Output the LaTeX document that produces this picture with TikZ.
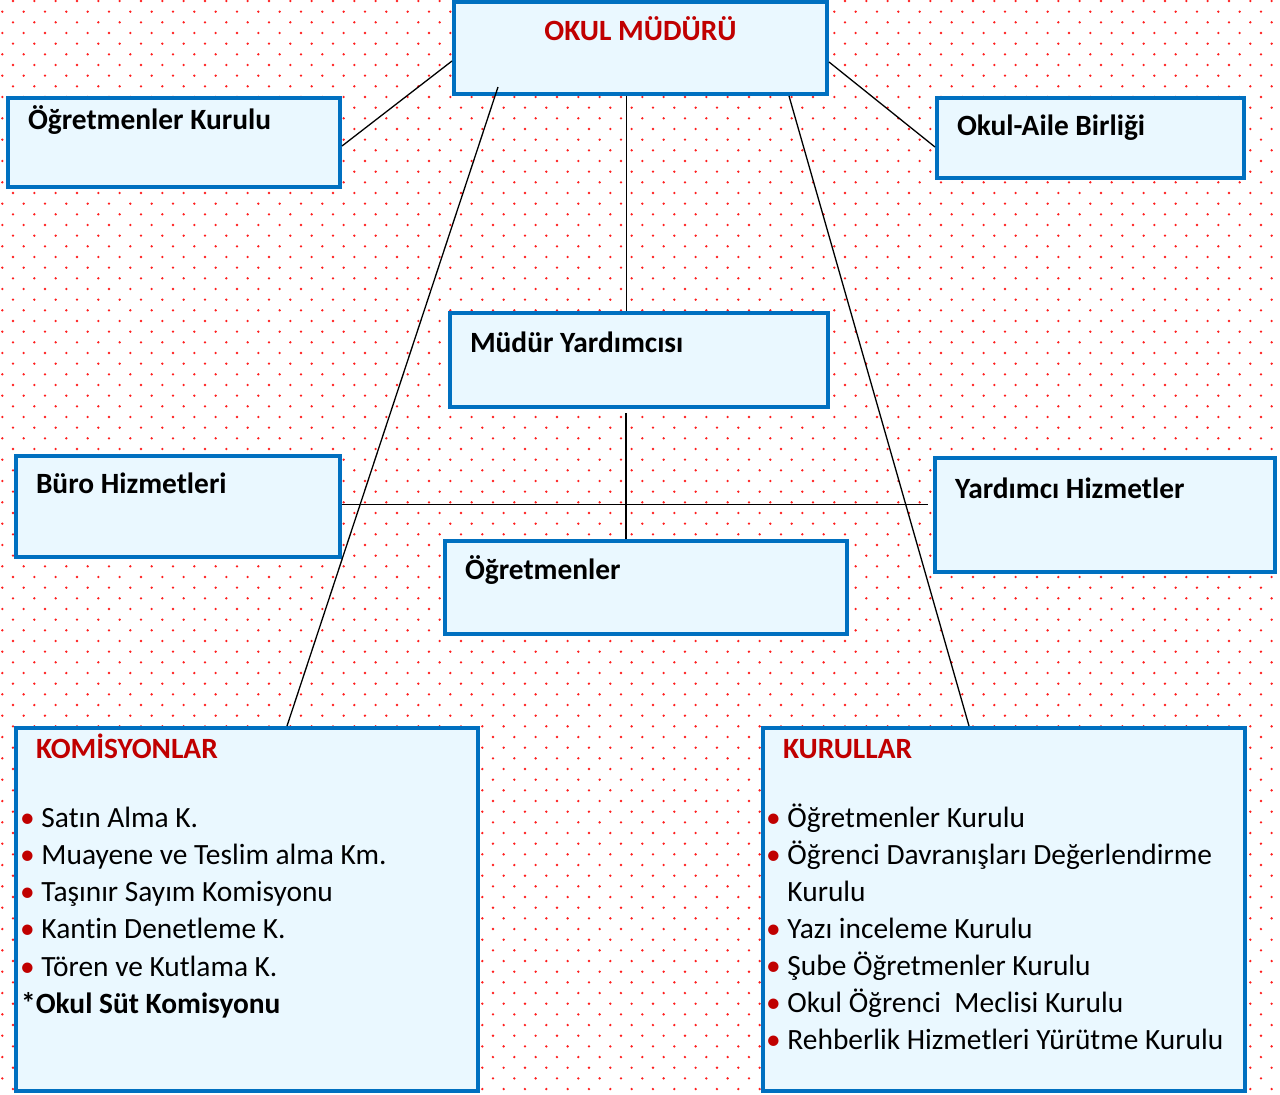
\documentclass[tikz,border=0pt]{standalone}
\usepackage{fontspec}
\setmainfont{Carlito}[Ligatures=NoCommon]
\definecolor{boxblue}{RGB}{0,112,192}
\definecolor{boxfill}{RGB}{234,248,255}
\definecolor{titred}{RGB}{192,0,0}
\definecolor{dotred}{RGB}{255,30,30}
\newcommand{\chartfont}{\fontsize{29.4}{35}\selectfont}
\newcommand{\blt}{{\color{titred}•}\ }
\tikzstyle{unit} = [rectangle, draw=boxblue, line width=4pt, fill=boxfill, anchor=north west, inner xsep=20pt, inner ysep=12pt, text height=26pt, align=flush left, font=\chartfont\bfseries]
\tikzstyle{item} = [anchor=base west, inner sep=0pt, font=\chartfont]
\tikzstyle{link} = [line width=1.3pt]

\begin{document}
\begin{tikzpicture}[x=1pt, y=-1pt]
            \clip (0,0) rectangle (1280,1095);
            \fill [white] (0,0) rectangle (1280,1095);
            % dotted background
            \foreach \r in {0,...,102}
                \fill [dotred] \foreach \c in {0,...,60} {({2.33+21.333*\c+10.667*mod(\r+1,2)},{1+10.667*\r}) circle (1.3)};
            \node [unit, text width=333pt, text depth=42pt, align=flush center] at (452,0) (mudur) {\color{titred}OKUL MÜDÜRÜ};
            \node [unit, text width=292pt, inner ysep=5pt, text depth=53pt] at (6,96) (ogrkurul) {Öğretmenler Kurulu};
            \node [unit, text width=267pt, inner ysep=11pt, text depth=32pt] at (935,96) (okulaile) {Okul-Aile Birliği};
            \node [unit, text width=338pt, inner ysep=13pt, text depth=42pt] at (448,311) (yardimci) {Müdür Yardımcısı};
            \node [unit, text width=284pt, inner ysep=11pt, text depth=53pt] at (14,454) (buro) {Büro Hizmetleri};
            \node [unit, text width=300pt, inner ysep=14pt, text depth=60pt] at (933,456) (yrdhizmet) {Yardımcı Hizmetler};
            \node [unit, text width=362pt, text depth=43pt] at (443,539) (ogretmen) {Öğretmenler};
            \node [unit, text width=422pt, inner ysep=4pt, text depth=329pt] at (14,726) (komisyon) {\color{titred}KOMİSYONLAR};
            \node [unit, text width=442pt, inner ysep=4pt, text depth=329pt] at (761,726) (kurul) {\color{titred}KURULLAR};
            % lists
            \foreach \t [count=\i from 0] in {Satın Alma K., Muayene ve Teslim alma Km., Taşınır Sayım Komisyonu, Kantin Denetleme K., Tören ve Kutlama K.}
                \node [item] at (20,827+37.3*\i) (kom\i) {\blt\t};
            \node [item, font=\chartfont\bfseries] at (21,1013) (komsut) {*Okul Süt Komisyonu};
            \foreach \t [count=\i from 0] in {\blt Öğretmenler Kurulu, \blt Öğrenci Davranışları Değerlendirme, \phantom{\blt}Kurulu, \blt Yazı inceleme Kurulu, \blt Şube Öğretmenler Kurulu, \blt Okul Öğrenci~~Meclisi Kurulu, \blt Rehberlik Hizmetleri Yürütme Kurulu}
                \node [item] at (766,827+37*\i) (kur\i) {\t};
            % connectors
            \draw [link] ([yshift=-3.5pt]ogrkurul.east) -- ([yshift=-13pt]mudur.west);
            \draw [link] ([yshift=-14pt]mudur.east) -- ([yshift=-9pt]okulaile.west);
            \draw [link] ([xshift=-14pt]mudur.south) -- ([xshift=-14pt]mudur.south |- yardimci.north);
            \draw [link] ([xshift=-13pt,yshift=-4pt]yardimci.south) -- ([xshift=-13pt]yardimci.south |- ogretmen.north);
            \coordinate (hizmend) at ([xshift=-5pt]yrdhizmet.west);
            \draw [link] ([yshift=2pt]buro.east) -- ([yshift=2pt]buro.east -| hizmend);
            \draw [link] ([xshift=46pt,yshift=9pt]mudur.south west) -- ([xshift=273pt]komisyon.north west);
            \draw [link] ([xshift=-40pt]mudur.south east) -- ([xshift=208pt]kurul.north west);
\end{tikzpicture}
\end{document}
